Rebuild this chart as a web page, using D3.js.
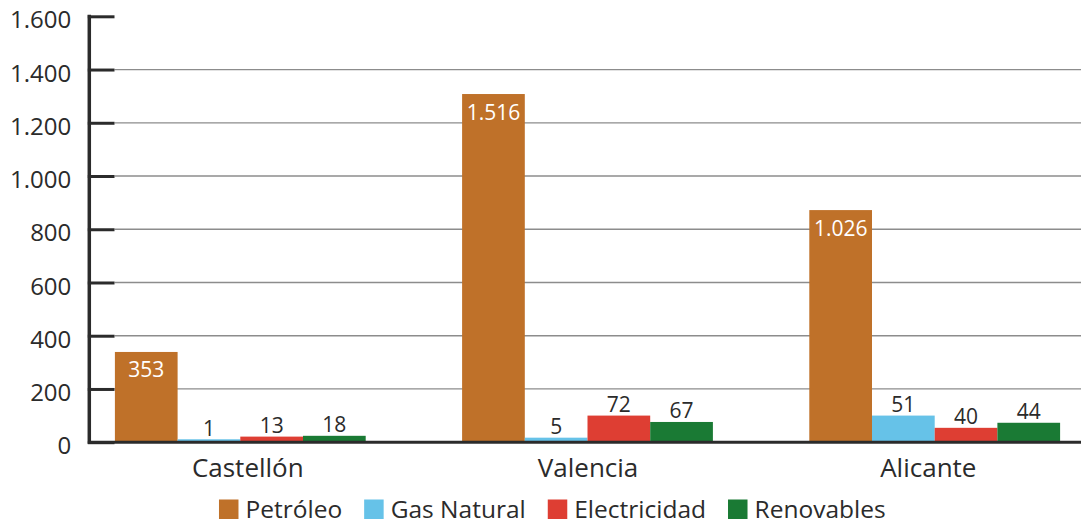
<!DOCTYPE html>
<html>
<head>
<meta charset="utf-8">
<script src="https://cdn.jsdelivr.net/npm/d3@7"></script>
<style>
  html, body { margin: 0; padding: 0; background: #fff; }
  svg { display: block; font-family: "Open Sans", Lato, sans-serif; }
</style>
</head>
<body>
<svg id="chart" width="1081" height="525"></svg>
<script>
// ---- data ----
const categories = ["Castellón", "Valencia", "Alicante"];
const seriesNames = ["Petróleo", "Gas Natural", "Electricidad", "Renovables"];
// bar heights as drawn in the picture
const petroleoBars = [339, 1308, 872];
const gasBars = [11, 17, 100];
const electricidadBars = [21, 100, 54];
const renovablesBars = [24, 76, 73];
// printed data labels
const petroleoLabels = [353, 1516, 1026];
const gasLabels = [1, 5, 51];
const electricidadLabels = [13, 72, 40];
const renovablesLabels = [18, 67, 44];
const yTicks = [0, 200, 400, 600, 800, 1000, 1200, 1400, 1600];
const colors = ["#BF7129", "#66C2E8", "#DE3E33", "#1A7A34"];

const barSets = [petroleoBars, gasBars, electricidadBars, renovablesBars];
const labelSets = [petroleoLabels, gasLabels, electricidadLabels, renovablesLabels];

const locale = d3.formatLocale({decimal: ",", thousands: ".", grouping: [3], currency: ["", "€"]});
const fmt = locale.format(",d");

const svg = d3.select("#chart");
const W = 1081;
const axisX = 89.3, tickEnd = 114.5;
const textColor = "#2b2b2b";

const y = d3.scaleLinear().domain([0, 1600]).range([442.2, 16.3]);
const x0 = d3.scalePoint().domain(categories).range([240.3, 934.7]);
const x1 = d3.scaleBand().domain(seriesNames).range([-125.4, 125.4]).padding(0);
const xLabel = d3.scalePoint().domain(categories).range([247.3, 927.8]);

// gridlines (not at 0 and top)
svg.append("g").selectAll("line")
  .data(yTicks.filter(t => t > 0 && t < 1600))
  .join("line")
  .attr("x1", tickEnd).attr("x2", W)
  .attr("y1", d => y(d)).attr("y2", d => y(d))
  .attr("stroke", "#8c8c8c").attr("stroke-width", 1.3);

// bars
const rows = [];
categories.forEach((c, ci) => {
  seriesNames.forEach((s, si) => {
    rows.push({cat: c, ser: s, si, v: barSets[si][ci], lab: labelSets[si][ci]});
  });
});

svg.append("g").selectAll("rect")
  .data(rows)
  .join("rect")
  .attr("x", d => x0(d.cat) + x1(d.ser))
  .attr("width", x1.bandwidth())
  .attr("y", d => y(d.v))
  .attr("height", d => y(0) - y(d.v))
  .attr("fill", d => colors[d.si]);

// data labels
svg.append("g").selectAll("text")
  .data(rows)
  .join("text")
  .attr("x", d => x0(d.cat) + x1(d.ser) + x1.bandwidth() / 2)
  .attr("y", d => d.si === 0 ? y(d.v) + 25.5 : y(d.v) - 3.5)
  .attr("text-anchor", "middle")
  .attr("font-size", 21)
  .attr("fill", d => d.si === 0 ? "#fff" : textColor)
  .text(d => fmt(d.lab));

// y axis
const yAxis = d3.axisLeft(y).tickValues(yTicks).tickFormat(fmt)
  .tickSize(0).tickPadding(18);
const ya = svg.append("g").attr("transform", `translate(${axisX},0)`).call(yAxis);
ya.select(".domain").remove();
ya.selectAll("text").attr("font-size", 24).attr("fill", textColor)
  .attr("font-family", "'Open Sans', sans-serif").attr("dy", "0.48em");
ya.selectAll(".tick").append("line")
  .attr("x1", -1.5).attr("x2", tickEnd - axisX)
  .attr("stroke", textColor).attr("stroke-width", 3);
svg.append("line")
  .attr("x1", axisX).attr("x2", axisX)
  .attr("y1", y(1600) - 1.5).attr("y2", y(0) + 1.5)
  .attr("stroke", textColor).attr("stroke-width", 3.5);
// baseline
svg.append("line")
  .attr("x1", axisX).attr("x2", W)
  .attr("y1", y(0)).attr("y2", y(0))
  .attr("stroke", textColor).attr("stroke-width", 3);

// category labels
const xa = svg.append("g").attr("transform", `translate(0,${y(0)})`)
  .call(d3.axisBottom(xLabel).tickSize(0).tickPadding(0));
xa.select(".domain").remove();
xa.selectAll("text").attr("font-size", 26).attr("fill", textColor)
  .attr("font-family", "'Open Sans', sans-serif").attr("dy", null).attr("y", 35);

// legend
const legend = svg.append("g");
const items = legend.selectAll("g").data(seriesNames).join("g");
items.append("rect").attr("width", 19.5).attr("height", 19.5).attr("y", 499.5)
  .attr("fill", (d, i) => colors[i]);
items.append("text").attr("x", 26.5).attr("y", 518)
  .attr("font-size", 24.5).attr("fill", textColor).text(d => d);
const gap = 22;
let widths = [];
items.each(function () { widths.push(26.5 + this.querySelector("text").getComputedTextLength()); });
const total = d3.sum(widths) + gap * (widths.length - 1);
let cx = 552.3 - total / 2;
items.each(function (d, i) {
  d3.select(this).attr("transform", `translate(${cx},0)`);
  cx += widths[i] + gap;
});
</script>
</body>
</html>
